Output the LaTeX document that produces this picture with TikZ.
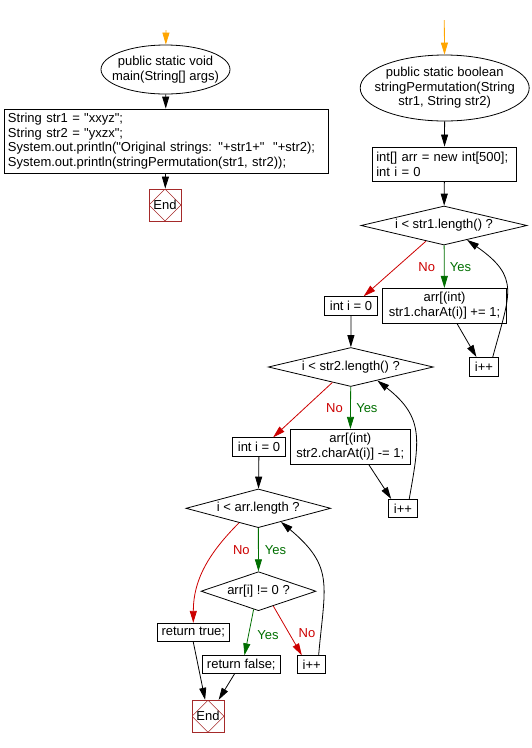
\documentclass[tikz,border=0pt]{standalone}
\usepackage{fontspec}
\setmainfont{Liberation Sans}[Ligatures=TeXOff]
\usetikzlibrary{shapes.geometric,arrows.meta}
\definecolor{startorange}{RGB}{255,165,0}
\definecolor{yesgreen}{RGB}{0,110,0}
\definecolor{nored}{RGB}{204,0,0}
\definecolor{endred}{RGB}{165,42,42}
\begin{document}
\begin{tikzpicture}[x=1pt, y=-1pt, line width=0.8pt,
	font=\fontsize{13}{14.5}\selectfont,
	>={Triangle[length=12pt,width=7pt]},
	startell/.style={draw, ellipse, inner sep=-15pt, align=center},
	box/.style={draw, rectangle, inner sep=0pt, align=center},
	codebox/.style={draw, rectangle, inner xsep=4pt, inner ysep=0pt, align=left},
	test/.style={draw, diamond, inner sep=0pt},
	endbox/.style={draw=endred, rectangle, minimum size=32pt, inner sep=0pt,
		path picture={\draw[endred, line width=0.6pt]
			(path picture bounding box.north) -- (path picture bounding box.east)
			-- (path picture bounding box.south) -- (path picture bounding box.west) -- cycle;}},
	flow/.style={->},
	yes/.style={->, yesgreen},
	no/.style={->, nored},
	yeslabel/.style={text=yesgreen},
	nolabel/.style={text=nored}]
	\useasboundingbox (0,0) rectangle (531,748);
	% main
	\coordinate (mainIn) at (166,30);
	\node[startell, minimum width=129pt, minimum height=49pt] (mainS) at (165.5,69.5)
		{public static void\\main(String[] args)};
	\node[codebox, text width=316pt, minimum height=64pt] (mainBox) at (166,141)
		{String str1 = "xxyz";\\String str2 = "yxzx";\\System.out.println("Original strings: "+str1+"\ \ "+str2);\\System.out.println(stringPermutation(str1, str2));};
	\node[endbox] (mainEnd) at (165,205) {End};
	\draw[->, startorange] (mainIn) -- (mainS);
	\draw[flow] (mainS) -- (mainBox);
	\draw[flow] (mainBox) -- (mainEnd);
	% stringPermutation
	\coordinate (permIn) at (444.3,20);
	\node[startell, minimum width=169pt, minimum height=66pt] (permS) at (444.7,88)
		{public static boolean\\stringPermutation(String\\str1, String str2)};
	\node[codebox, text width=136.4pt, minimum height=34.7pt] (init) at (444.5,164.3)
		{int[] arr = new int[500];\\int i = 0};
	\node[test, aspect=4.26, minimum width=166pt, minimum height=39pt] (t1) at (444,225.5) {i < str1.length() ?};
	\node[box, minimum width=124.4pt, minimum height=34.7pt] (add) at (444.5,305.7) {arr[(int)\\str1.charAt(i)] += 1;};
	\node[box, minimum width=53pt, minimum height=19pt] (zero1) at (351,306.2) {int i = 0};
	\node[box, minimum width=29.4pt, minimum height=18.7pt] (inc1) at (484,366.7) {i++};
	\node[test, aspect=4.23, minimum width=165pt, minimum height=39pt] (t2) at (350.8,367) {i < str2.length() ?};
	\node[box, minimum width=120.7pt, minimum height=35pt] (sub) at (350.3,446.8) {arr[(int)\\str2.charAt(i)] -= 1;};
	\node[box, minimum width=53.4pt, minimum height=19pt] (zero2) at (259,447.2) {int i = 0};
	\node[box, minimum width=29.4pt, minimum height=18.4pt] (inc2) at (403,508.5) {i++};
	\node[test, aspect=3.74, minimum width=144.7pt, minimum height=38.7pt] (t3) at (258.3,508.3) {i < arr.length ?};
	\node[test, aspect=2.95, minimum width=115pt, minimum height=39pt] (t4) at (258.5,591.2) {arr[i] != 0 ?};
	\node[box, minimum width=72pt, minimum height=18.4pt] (rtrue) at (193.3,632.5) {return true;};
	\node[box, minimum width=77.3pt, minimum height=17.6pt] (rfalse) at (241.3,664.5) {return false;};
	\node[box, minimum width=28pt, minimum height=17.6pt] (inc3) at (311.7,664.5) {i++};
	\node[endbox] (permEnd) at (208,716.2) {End};

	\draw[->, startorange] (permIn) -- (permS);
	\draw[flow] (permS) -- (init);
	\draw[flow] (init) -- (t1);
	\draw[yes] (t1) -- node[right=2pt, yeslabel]{Yes} node[left=5.5pt, nolabel]{No} (add);
	\draw[no] (t1.221) -- (zero1.38);
	\draw[flow] (add.-55) -- (inc1.128);
	\draw[flow] (inc1.48) to[out=75, in=-35, looseness=1.4] (t1.-32);

	\draw[flow] (zero1) -- (t2);
	\draw[yes] (t2) -- node[right=2pt, yeslabel]{Yes} node[left=4pt, nolabel]{No} (sub);
	\draw[no] (t2.220) -- (zero2.35);
	\draw[flow] (sub.-44) -- (inc2.141);
	\draw[flow] (inc2.57) to[out=80, in=-38, looseness=1.25] (t2.-27);

	\draw[flow] (zero2) -- (t3);
	\draw[yes] (t3) -- node[right=2.7pt, yeslabel]{Yes} node[left=5pt, nolabel]{No} (t4);
	\draw[no] (t3.217) to[out=225, in=90] (rtrue.north);
	\draw[yes] (t4.-105) -- node[pos=0.55, right=5pt, yeslabel]{Yes} (rfalse.71);
	\draw[no] (t4.-45) -- node[pos=0.55, right=6pt, nolabel]{No} (inc3.137);
	\draw[flow] (inc3.53) to[out=85, in=-40, looseness=1.3] (t3.-31);
	\draw[flow] (rtrue.south) -- (permEnd.100);
	\draw[flow] (rfalse.-126) -- (permEnd.57);
\end{tikzpicture}
\end{document}
